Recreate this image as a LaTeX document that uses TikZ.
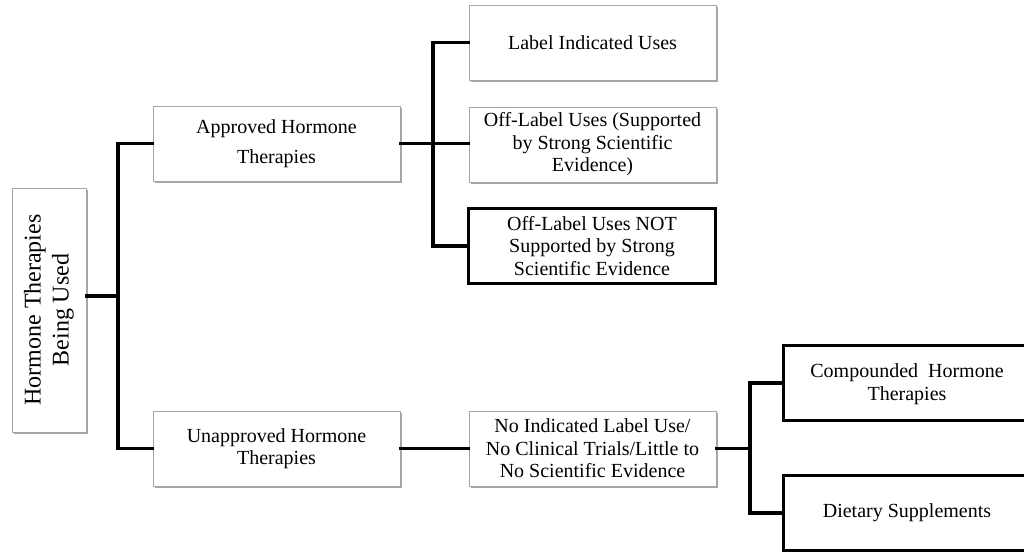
\documentclass[tikz,border=0pt]{standalone}
\usepackage{fontspec}
\setmainfont{Liberation Serif}
\usetikzlibrary{shadows}
\begin{document}
\begin{tikzpicture}[x=1pt,y=-1pt,
  box/.style={draw=gray!70, line width=0.8pt, fill=white, align=center, inner sep=0pt,
    font=\fontsize{20}{22.5}\selectfont,
    drop shadow={shadow xshift=1.5pt, shadow yshift=-1.5pt, opacity=0.35, fill=black}},
  thickbox/.style={box, draw=black, line width=3pt},
  txt/.style={font=\fontsize{20}{22.5}\selectfont, align=center, inner sep=0pt},
  conn/.style={line width=3.5pt, line cap=rect}]
\useasboundingbox (0,0) rectangle (1024,554);
\clip (0,0) rectangle (1024,554);
\node[box, minimum width=74pt, minimum height=244pt] (root) at (49,310) {};
\node[rotate=90, align=center, font=\fontsize{24}{28}\selectfont] (roottxt) at (root.center) {Hormone Therapies\\Being Used};
\node[box, minimum width=247pt, minimum height=75pt, font=\fontsize{20}{30}\selectfont] (appr) at (276.5,143.5) {Approved Hormone\\Therapies};
\node[box, minimum width=247pt, minimum height=75pt] (unappr) at (276.5,448.5) {Unapproved Hormone\\Therapies};
\node[box, minimum width=247pt, minimum height=75pt] (label) at (592.5,42.5) {Label Indicated Uses};
\node[box, minimum width=247pt, minimum height=75pt] (offs) at (592.5,144.5) {Off-Label Uses (Supported\\by Strong Scientific\\Evidence)};
\node[thickbox, minimum width=247pt, minimum height=75pt] (offn) at (592,246) {Off-Label Uses NOT\\Supported by Strong\\Scientific Evidence};
\node[box, minimum width=247pt, minimum height=75pt] (noind) at (592.5,448.5) {No Indicated Label Use/\\No Clinical Trials/Little to\\No Scientific Evidence};
\node[thickbox, minimum width=250pt, minimum height=75pt] (comp) at (908,383) {};
\node[txt] (comptxt) at (907,384) {Compounded\ \ Hormone\\Therapies};
\node[thickbox, minimum width=250pt, minimum height=75pt] (diet) at (908,513) {};
\node[txt] (diettxt) at (907,513) {Dietary Supplements};
\coordinate (j1) at (118,296);
\coordinate (j2) at (433,143.5);
\coordinate (j3) at (750,448.5);
\draw[conn] (root.east |- j1) -- (j1);
\draw[conn] (appr.west) -| (j1) |- (unappr.west);
\draw[conn] (appr.east) -- (offs.west |- appr.east);
\draw[conn] (label.west) -| (j2) |- (offn.west);
\draw[conn] (unappr.east) -- (noind.west);
\draw[conn] (noind.east) -- (j3);
\draw[conn] (comp.west) -| (j3) |- (diet.west);
\end{tikzpicture}
\end{document}
